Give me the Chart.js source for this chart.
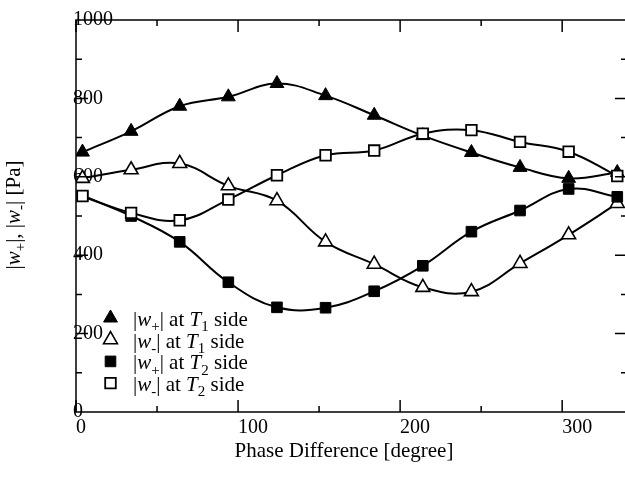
<!DOCTYPE html>
<html>
<head>
<meta charset="utf-8">
<script src="https://cdn.jsdelivr.net/npm/chart.js@4.4.1/dist/chart.umd.min.js"></script>
<style>
  html, body { margin: 0; padding: 0; background: #fff; overflow: hidden; }
  #wrap { width: 625px; height: 489px; overflow: hidden; }
</style>
</head>
<body>
<div id="wrap"><canvas id="chart" width="640" height="489"></canvas></div>
<script>
// phase positions as they sit on the picture's x axis
const PHASE = [4, 34, 64, 94, 124, 154, 184, 214, 244, 274, 304, 334];

const W_PLUS_T1 = [663, 716, 780, 804, 838, 807, 757, 705, 662, 624, 596, 611];
const W_MINUS_T1 = [596, 618, 634, 577, 539, 434, 377, 318, 307, 379, 452, 532];
const W_PLUS_T2 = [551, 500, 434, 331, 267, 266, 308, 373, 460, 514, 569, 549];
const W_MINUS_T2 = [551, 508, 489, 542, 604, 655, 667, 710, 719, 689, 664, 602];

// '_' marks: letter before it is italic, char after it is a subscript
const SERIES_LABELS = ['|w_+| at T_1 side', '|w_-| at T_1 side', '|w_+| at T_2 side', '|w_-| at T_2 side'];
const X_TITLE = 'Phase Difference [degree]';
const Y_TITLE = '|w_+|, |w_-| [Pa]';

const X_MAX = 340;
const Y_MAX = 1000;

const FONT = "'Liberation Serif', 'Times New Roman', serif";

function richParts(str) {
    const parts = [];
    let buf = '';
    for (let i = 0; i < str.length; i++) {
        if (str[i + 1] === '_') {
            if (buf) parts.push({ t: buf });
            buf = '';
            parts.push({ t: str[i], it: true });
            parts.push({ t: str[i + 2], sub: true });
            i += 2;
        } else {
            buf += str[i];
        }
    }
    if (buf) parts.push({ t: buf });
    return parts;
}

function partFont(p, size) {
    if (p.sub) return Math.round(size * 0.7) + 'px ' + FONT;
    return (p.it ? 'italic ' : '') + size + 'px ' + FONT;
}

function richWidth(ctx, str, size) {
    let w = 0;
    richParts(str).forEach(p => { ctx.font = partFont(p, size); w += ctx.measureText(p.t).width; });
    return w;
}

function drawRich(ctx, str, x, y, size) {
    ctx.textBaseline = 'alphabetic';
    ctx.textAlign = 'left';
    richParts(str).forEach(p => {
        ctx.font = partFont(p, size);
        ctx.fillText(p.t, x, p.sub ? y + size * 0.25 : y);
        x += ctx.measureText(p.t).width;
    });
}

const styles = [
    { pointStyle: 'triangle', radius: 8, fill: '#000', bw: 1 },
    { pointStyle: 'triangle', radius: 8, fill: '#fff', bw: 1.6 },
    { pointStyle: 'rect', radius: 7.5, fill: '#000', bw: 1 },
    { pointStyle: 'rect', radius: 7.5, fill: '#fff', bw: 1.8 }
];

const frame = {
    id: 'frame',
    afterDraw(chart) {
        const { ctx, chartArea: a, scales: { x, y } } = chart;
        ctx.save();
        ctx.strokeStyle = '#000';
        ctx.lineWidth = 1.5;
        ctx.strokeRect(a.left, a.top, a.right - a.left, a.bottom - a.top);
        ctx.beginPath();
        for (let v = 0; v <= X_MAX; v += 50) {
            const px = x.getPixelForValue(v);
            const len = v % 100 ? 6 : 12;
            ctx.moveTo(px, a.bottom); ctx.lineTo(px, a.bottom - len);
            ctx.moveTo(px, a.top); ctx.lineTo(px, a.top + len);
        }
        for (let v = 100; v < Y_MAX; v += 100) {
            const py = y.getPixelForValue(v);
            const len = v % 200 ? 6 : 12;
            ctx.moveTo(a.left, py); ctx.lineTo(a.left + len, py);
            ctx.moveTo(a.right, py); ctx.lineTo(a.right - len, py);
        }
        ctx.stroke();

        ctx.fillStyle = '#000';
        // x title
        ctx.font = '21px ' + FONT;
        ctx.textAlign = 'center';
        ctx.textBaseline = 'alphabetic';
        ctx.fillText(X_TITLE, 344, 457);
        // y title
        ctx.save();
        ctx.translate(13, 215);
        ctx.rotate(-Math.PI / 2);
        drawRich(ctx, Y_TITLE, -richWidth(ctx, Y_TITLE, 21) / 2, 7, 21);
        ctx.restore();

        // legend
        SERIES_LABELS.forEach((label, i) => {
            const base = 326 + i * 21.7;
            const s = styles[i];
            ctx.fillStyle = s.fill;
            ctx.strokeStyle = '#000';
            ctx.lineWidth = s.bw;
            Chart.helpers.drawPoint(ctx, { pointStyle: s.pointStyle, radius: s.radius, rotation: 0, borderWidth: s.bw }, 110.5, base - 8);
            ctx.fillStyle = '#000';
            drawRich(ctx, label, 133, base, 21);
        });
        ctx.restore();
    }
};

const seriesValues = [W_PLUS_T1, W_MINUS_T1, W_PLUS_T2, W_MINUS_T2];
const drawOrder = [3, 2, 1, 0];

new Chart(document.getElementById('chart'), {
    type: 'line',
    data: {
        datasets: seriesValues.map((vals, i) => ({
            label: SERIES_LABELS[i].replace(/_/g, ''),
            data: PHASE.map((p, j) => ({ x: p, y: vals[j] })),
            borderColor: '#000',
            borderWidth: 2,
            tension: 0.4,
            pointStyle: styles[i].pointStyle,
            pointRadius: styles[i].radius,
            pointBackgroundColor: styles[i].fill,
            pointBorderColor: '#000',
            pointBorderWidth: styles[i].bw,
            order: drawOrder[i]
        }))
    },
    options: {
        responsive: false,
        devicePixelRatio: 1,
        animation: false,
        layout: { padding: { left: 76, top: 20, right: 13, bottom: 37 } },
        plugins: { legend: { display: false }, tooltip: { enabled: false } },
        scales: {
            x: {
                type: 'linear',
                min: 0,
                max: X_MAX,
                grid: { display: false },
                border: { display: false },
                ticks: {
                    stepSize: 50,
                    align: 'start',
                    padding: -4,
                    color: '#000',
                    font: { family: FONT, size: 20 },
                    callback: v => (v % 100 === 0 ? v : '')
                },
                afterFit: s => { s.height = 40; }
            },
            y: {
                min: 0,
                max: Y_MAX,
                grid: { display: false },
                border: { display: false },
                ticks: {
                    stepSize: 100,
                    mirror: true,
                    padding: -3,
                    color: '#000',
                    font: { family: FONT, size: 20 },
                    callback: v => (v % 200 === 0 ? v : '')
                },
                afterFit: s => { s.width = 0; }
            }
        }
    },
    plugins: [frame]
});
</script>
</body>
</html>
